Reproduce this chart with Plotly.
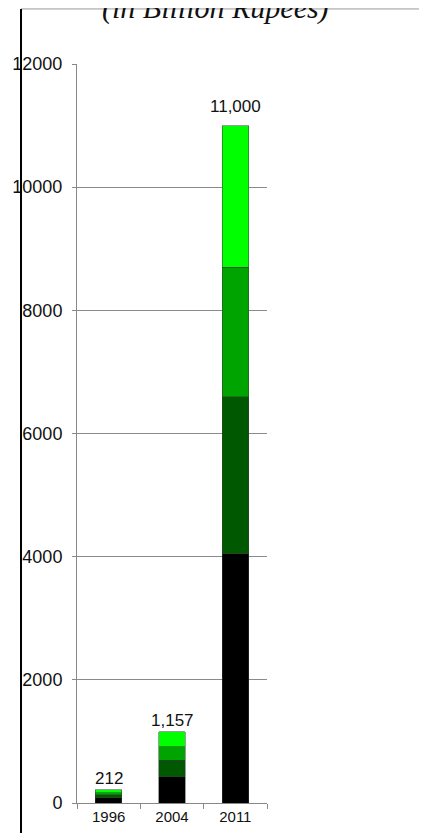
import plotly.graph_objects as go

years = ["1996", "2004", "2011"]
seg_black = [86, 427, 4050]
seg_dark = [44, 271, 2550]
seg_medium = [37, 216, 2100]
seg_bright = [45, 243, 2300]
total_labels = ["212", "1,157", "11,000"]
y_ticks = [0, 2000, 4000, 6000, 8000, 10000, 12000]

colors = ["#000000", "#005800", "#00A400", "#00FF00"]
series = [seg_black, seg_dark, seg_medium, seg_bright]

fig = go.Figure()
for vals, c in zip(series, colors):
    fig.add_trace(go.Bar(x=years, y=vals, marker=dict(color=c, line=dict(color="#3a3a3a", width=0.5)),
                         width=0.42, showlegend=False, hoverinfo="skip"))

totals = [sum(v) for v in zip(*series)]
label_shift = [0, 0, 8]
annots = [
    dict(x=i, y=tot, text=lab, xref="x", yref="y", showarrow=False, yanchor="bottom",
         yshift=s, font=dict(family="Liberation Sans", size=17, color="#111111"))
    for i, (tot, lab, s) in enumerate(zip(totals, total_labels, label_shift))
]
annots.append(
    dict(text="<i>(in Billion Rupees)</i>", xref="paper", yref="paper", x=0.727, y=1.050,
         xanchor="center", yanchor="bottom", showarrow=False,
         font=dict(family="Liberation Serif", size=30, color="#111111"))
)

fig.update_layout(
    width=427, height=833,
    margin=dict(l=69, r=168, t=56, b=38, autoexpand=False),
    paper_bgcolor="white", plot_bgcolor="white",
    barmode="stack",
    font=dict(family="Liberation Sans", color="#111111"),
    xaxis=dict(type="category", categoryorder="array", categoryarray=years,
               showline=True, linecolor="#888888", linewidth=1,
               ticks="outside", tickson="boundaries", ticklen=5, tickcolor="#888888",
               tickfont=dict(size=15), tickangle=0, showgrid=False),
    yaxis=dict(range=[0, 12000], tickvals=y_ticks, ticktext=[str(v) for v in y_ticks],
               showline=True, linecolor="#888888", linewidth=1,
               showgrid=True, gridcolor="#8a8a8a", gridwidth=1, zeroline=False,
               ticks="outside", ticklen=4, tickcolor="#888888",
               tickfont=dict(size=18), ticklabelstandoff=6),
    shapes=[
        dict(type="line", xref="paper", yref="paper", x0=-0.2947, x1=1.9, y0=1.0745, y1=1.0745,
             line=dict(color="#999999", width=1)),
        dict(type="line", xref="paper", yref="paper", x0=-0.2947, x1=-0.2947, y0=1.0745, y1=-0.06,
             line=dict(color="#000000", width=2)),
    ],
    annotations=annots,
)

fig.write_html("out.html")
